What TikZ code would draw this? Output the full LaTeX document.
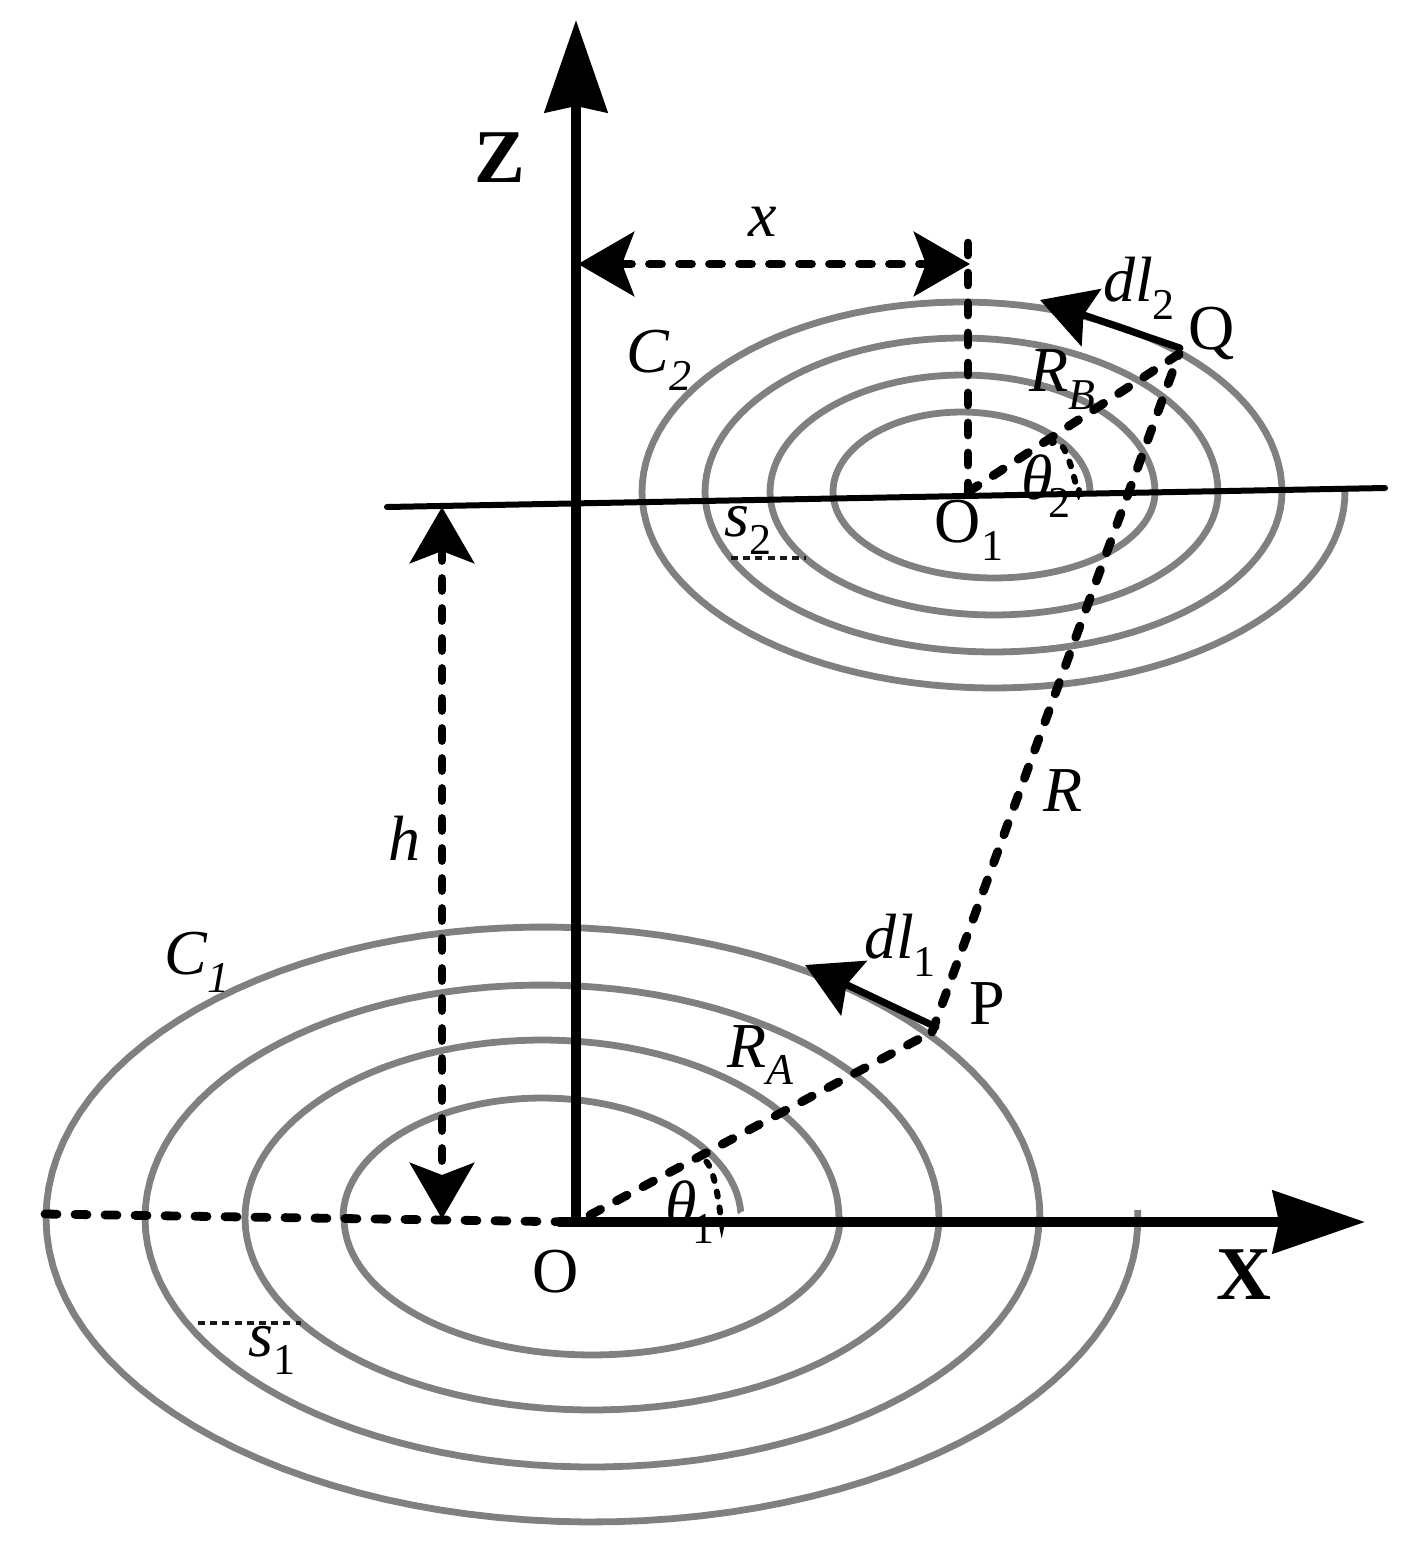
\documentclass[tikz,border=0pt]{standalone}
\usepackage{fontspec}
\setmainfont{Liberation Serif}
\usetikzlibrary{arrows.meta}
\definecolor{coil}{HTML}{808080}
\newcommand{\lowtxt}[1]{\raisebox{-0.28em}{\fontsize{22}{24}\selectfont #1}}
\tikzset{
  arcp/.style n args={6}{insert path={-- plot[domain=#5:#6,samples=60] ({#1+#3*cos(\x)},{#2-#4*sin(\x)})}},
  coilline/.style={draw=coil,line width=3.4pt,line join=round},
  axisline/.style={draw=black,line width=5pt},
  dashline/.style={draw=black,line width=4.4pt,line cap=round,dash pattern=on 6pt off 9pt},
  thindash/.style={draw=black!90,line width=1.8pt,dash pattern=on 3.5pt off 2.6pt},
  arcdash/.style={draw=black,line width=3pt,line cap=round,dash pattern=on 2.5pt off 5.5pt},
  lab/.style={inner sep=0pt,font=\fontsize{32}{36}\selectfont},
  axlab/.style={inner sep=0pt,font=\fontsize{38}{42}\selectfont\bfseries},
  bigtip/.tip={Stealth[length=46pt,width=31pt,inset=3pt]},
  dimtip/.tip={Stealth[length=28pt,width=32pt,inset=6pt]},
  dltip/.tip={Stealth[length=27pt,width=30pt,inset=4pt]}
}
\begin{document}
\begin{tikzpicture}[x=0.5pt,y=-0.5pt]
\useasboundingbox (0,0) rectangle (1408,1553);
% bottom coil
\draw[coilline] (741,1212) [arcp={542}{1218}{199}{120}{3}{180}] [arcp={592}{1218}{248}{137}{180}{360}]
 [arcp={542}{1218}{297}{178}{0}{180}] [arcp={592}{1218}{347}{192}{180}{360}]
 [arcp={542}{1218}{397}{233}{0}{180}] [arcp={592}{1218}{447}{249}{180}{360}]
 [arcp={543}{1218}{497}{291}{0}{180}] [arcp={592}{1218}{546}{304}{180}{361.5}];
% top coil
\draw[coilline] (1090,492) [arcp={961.5}{492}{128.5}{80}{0}{180}] [arcp={994}{492}{161}{86}{180}{360}]
 [arcp={962.5}{492}{192.5}{117}{0}{180}] [arcp={994}{492}{224}{123}{180}{360}]
 [arcp={961.5}{492}{256.5}{154}{0}{180}] [arcp={993.5}{492}{288.5}{160}{180}{360}]
 [arcp={962}{492}{320}{190}{0}{180}] [arcp={993.5}{492}{351.5}{196}{180}{361}];
% named points
\coordinate (O) at (576,1222);
\coordinate (Ztip) at (576,20);
\coordinate (Xstart) at (558,1222);
\coordinate (Xtip) at (1365,1222);
\coordinate (Lleft) at (387,507);
\coordinate (Lright) at (1385,488);
\coordinate (O1) at (968,492);
\coordinate (O1top) at (968,243);
\coordinate (P) at (932,1032);
\coordinate (Q) at (1179,354);
\coordinate (OLeft) at (45,1214);
\coordinate (Ostart) at (590,1215);
\coordinate (Xa) at (578,264);
\coordinate (Xb) at (970,264);
\coordinate (Ha) at (442,507);
\coordinate (Hb) at (442,1219);
\coordinate (Dl1a) at (936,1027);
\coordinate (Dl1b) at (805,965);
\coordinate (Dl2a) at (1180,348);
\coordinate (Dl2b) at (1040,300);
\coordinate (Th1a) at (722,1220);
\coordinate (Th1b) at (697,1160);
\coordinate (Th2a) at (1079,490);
\coordinate (Th2b) at (1052,443);
\coordinate (S2a) at (731,558);
\coordinate (S2b) at (806,558);
\coordinate (S1a) at (198,1323);
\coordinate (S1b) at (301,1323);
% axes
\draw[axisline,-{bigtip}] (O) -- (Ztip);
\draw[axisline,-{bigtip}] (Xstart) -- (Xtip);
\draw[draw=black,line width=3pt,line cap=round] (Lleft) -- (Lright);
% dashed
\draw[dashline] (OLeft) -- (O);
\draw[dashline] (Ostart) -- (P);
\draw[dashline] (P) -- (Q);
\draw[dashline] (O1) -- (Q);
\draw[dashline] (O1top) -- (O1);
\draw[dashline,{dimtip}-{dimtip}] (Xa) -- (Xb);
\draw[dashline,{dimtip}-{dimtip}] (Ha) -- (Hb);
\draw[draw=black,line width=3.5pt,line cap=round,-{dltip}] (Dl1a) -- (Dl1b);
\draw[draw=black,line width=3.5pt,line cap=round,-{dltip}] (Dl2a) -- (Dl2b);
\draw[arcdash] (Th1a) to[out=-90,in=35] (Th1b);
\draw[arcdash] (Th2a) to[out=-90,in=35] (Th2b);
\draw[thindash] (S2a) -- (S2b);
\draw[thindash] (S1a) -- (S1b);
% labels
\node[axlab] (zlab) at (500,158) {Z};
\node[axlab] (xlab) at (1244,1275) {X};
\node[lab] (xdim) at (763,222) {\itshape x};
\node[lab] (hdim) at (404,838) {\itshape h};
\node[lab] (dl2) at (1139,288) {\itshape dl\lowtxt{\upshape 2}};
\node[lab] (qlab) at (1212,333) {Q};
\node[lab] (c2) at (659,360) {\itshape C\lowtxt{2}};
\node[lab] (rb) at (1062,380) {\itshape R\lowtxt{B}};
\node[lab] (th2) at (1046,486) {\itshape θ\kern-2pt\lowtxt{\upshape 2}};
\node[lab] (o1lab) at (969,530) {O\lowtxt{1}};
\node[lab] (s2) at (748,530) {\itshape s\lowtxt{\upshape 2}};
\node[lab] (rlab) at (1063,791) {\itshape R};
\node[lab] (dl1) at (900,945) {\itshape dl\lowtxt{\upshape 1}};
\node[lab] (plab) at (987,1004) {P};
\node[lab] (c1) at (197,962) {\itshape C\lowtxt{1}};
\node[lab] (ra) at (760,1055) {\itshape R\lowtxt{A}};
\node[lab] (th1) at (690,1212) {\itshape θ\kern-2pt\lowtxt{\upshape 1}};
\node[lab] (olab) at (556,1272) {O};
\node[lab] (s1) at (272,1350) {\itshape s\lowtxt{\upshape 1}};
\end{tikzpicture}
\end{document}
